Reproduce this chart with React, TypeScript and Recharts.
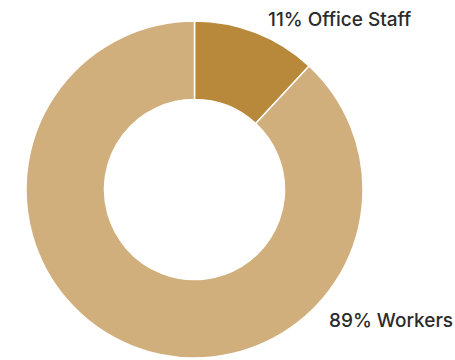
import React from "react";
import { PieChart, Pie, Cell } from "recharts";

const categories = ["Office Staff", "Workers"];
const values = [11.9, 88.1];
const labelTexts = ["11% Office Staff", "89% Workers"];
const colors = ["#B8893B", "#D1AF7D"];

const data = categories.map((name, i) => ({ name, value: values[i] }));

const labelOffsets = [
  { dx: 73.5, dy: -163.5 },
  { dx: 134.5, dy: 137.5 },
];

const renderLabel = (props: any) => {
  const { cx, cy, index } = props;
  const o = labelOffsets[index];
  return (
    <text
      x={cx + o.dx}
      y={cy + o.dy}
      fill="#2b2b2b"
      fontSize={19}
      fontWeight={500}
      fontFamily="Inter, sans-serif"
      textAnchor="start"
    >
      {labelTexts[index]}
    </text>
  );
};

export default function App() {
  return (
    <div style={{ position: "absolute", left: 0, top: 0, width: 455, height: 360, background: "#fff" }}>
      <PieChart width={455} height={360} margin={{ top: 0, right: 0, bottom: 0, left: 0 }}>
        <Pie
          data={data}
          dataKey="value"
          nameKey="name"
          cx={194.5}
          cy={189.5}
          innerRadius={90}
          outerRadius={168.5}
          startAngle={90}
          endAngle={-270}
          stroke="#ffffff"
          strokeWidth={1.5}
          label={renderLabel}
          labelLine={false}
          isAnimationActive={false}
        >
          {data.map((d, i) => (
            <Cell key={d.name} fill={colors[i]} />
          ))}
        </Pie>
      </PieChart>
    </div>
  );
}
